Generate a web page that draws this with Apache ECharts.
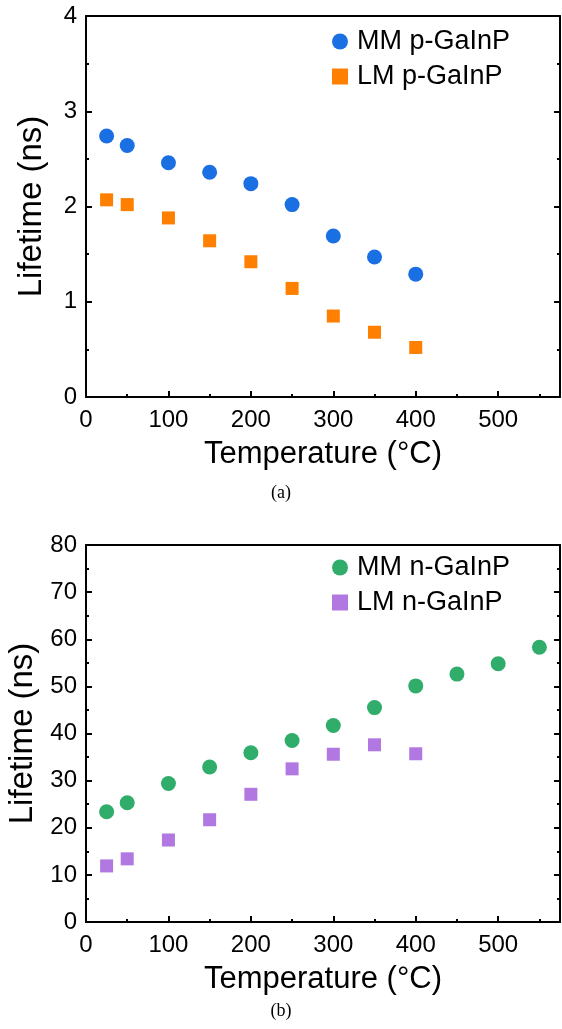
<!DOCTYPE html>
<html>
<head>
<meta charset="utf-8">
<script src="https://cdn.jsdelivr.net/npm/echarts@6/dist/echarts.min.js"></script>
<style>
html,body{margin:0;padding:0;background:#fff;}
#c{width:562px;height:1029px;}
</style>
</head>
<body>
<div id="c"></div>
<script>
// Temperatures (°C)
const tempsTop = [25, 50, 100, 150, 200, 250, 300, 350, 400];
const mmP = [2.74, 2.64, 2.46, 2.36, 2.24, 2.02, 1.69, 1.47, 1.29];
const lmP = [2.07, 2.02, 1.88, 1.64, 1.42, 1.14, 0.85, 0.68, 0.52];

const tempsMMn = [25, 50, 100, 150, 200, 250, 300, 350, 400, 450, 500, 550];
const mmN = [23.4, 25.3, 29.4, 32.9, 35.9, 38.5, 41.7, 45.5, 50.1, 52.6, 54.8, 58.3];
const tempsLMn = [25, 50, 100, 150, 200, 250, 300, 350, 400];
const lmN = [11.9, 13.4, 17.4, 21.7, 27.1, 32.5, 35.6, 37.6, 35.7];

const xTicks = [0, 100, 200, 300, 400, 500];
const yTicksTop = [0, 1, 2, 3, 4];
const yTicksBottom = [0, 10, 20, 30, 40, 50, 60, 70, 80];

const FONT = 'Liberation Sans, Arial, sans-serif';
const C_BLUE = '#1a6fe3', C_ORANGE = '#ff7f00', C_GREEN = '#30ad6a', C_PURPLE = '#b078e0';

const zip = (xs, ys) => xs.map((x, i) => [x, ys[i]]);

const lineStyle = { color: '#000', width: 2 };

function xAxisMain(gi) {
  return {
    gridIndex: gi, type: 'value', min: 0, max: 575, interval: 100,
    position: 'bottom',
    name: 'Temperature (°C)', nameLocation: 'middle', nameGap: 42,
    nameTextStyle: { fontFamily: FONT, fontSize: 31, color: '#000' },
    axisLine: { show: true, onZero: false, lineStyle },
    axisTick: { show: true, inside: true, length: 6, lineStyle: { color: '#000', width: 2 } },
    minorTick: { show: true, splitNumber: 2, length: 3, lineStyle: { color: '#000', width: 2 } },
    axisLabel: { fontFamily: FONT, fontSize: 24, color: '#000', margin: 11, showMaxLabel: false,
      formatter: v => xTicks.includes(v) ? String(v) : '' },
    splitLine: { show: false }
  };
}
function xAxisTop(gi) {
  return {
    gridIndex: gi, type: 'value', min: 0, max: 575, interval: 100, position: 'top',
    axisLine: { show: true, onZero: false, lineStyle },
    axisTick: { show: false }, axisLabel: { show: false }, splitLine: { show: false }
  };
}
function yAxisMain(gi, max, interval, ticks) {
  return {
    gridIndex: gi, type: 'value', min: 0, max: max, interval: interval, position: 'left',
    name: 'Lifetime (ns)', nameLocation: 'middle', nameGap: gi === 0 ? 38 : 42,
    nameTextStyle: { fontFamily: FONT, fontSize: 33, color: '#000' },
    axisLine: { show: true, onZero: false, lineStyle },
    axisTick: { show: true, inside: true, length: 6, lineStyle: { color: '#000', width: 2 } },
    minorTick: { show: true, splitNumber: 2, length: 3, lineStyle: { color: '#000', width: 2 } },
    axisLabel: { fontFamily: FONT, fontSize: 24, color: '#000', margin: 9,
      formatter: v => ticks.includes(v) ? String(v) : '' },
    splitLine: { show: false }
  };
}
function yAxisRight(gi, max, interval) {
  return {
    gridIndex: gi, type: 'value', min: 0, max: max, interval: interval, position: 'right',
    axisLine: { show: true, onZero: false, lineStyle },
    axisTick: { show: true, inside: true, length: 6, lineStyle: { color: '#000', width: 2 } },
    minorTick: { show: true, splitNumber: 2, length: 3, lineStyle: { color: '#000', width: 2 } },
    axisLabel: { show: false }, splitLine: { show: false }
  };
}

const chart = echarts.init(document.getElementById('c'), null, { renderer: 'canvas' });
chart.setOption({
  backgroundColor: '#fff',
  animation: false,
  grid: [
    { left: 86, top: 16, width: 474, height: 381, outerBoundsMode: 'none', containLabel: false },
    { left: 86, top: 545, width: 474, height: 377, outerBoundsMode: 'none', containLabel: false }
  ],
  xAxis: [xAxisMain(0), xAxisTop(0), xAxisMain(1), xAxisTop(1)],
  yAxis: [yAxisMain(0, 4, 1, yTicksTop), yAxisRight(0, 4, 1),
          yAxisMain(1, 80, 10, yTicksBottom), yAxisRight(1, 80, 10)],
  legend: [
    { orient: 'vertical', left: 327, top: 23, itemGap: 8, itemWidth: 16, itemHeight: 16,
      textStyle: { fontFamily: FONT, fontSize: 27, color: '#000', padding: [0, 0, 0, 4] },
      data: [{ name: 'MM p-GaInP', icon: 'circle' }, { name: 'LM p-GaInP', icon: 'rect' }] },
    { orient: 'vertical', left: 327, top: 549, itemGap: 8, itemWidth: 16, itemHeight: 16,
      textStyle: { fontFamily: FONT, fontSize: 27, color: '#000', padding: [0, 0, 0, 4] },
      data: [{ name: 'MM n-GaInP', icon: 'circle' }, { name: 'LM n-GaInP', icon: 'rect' }] }
  ],
  series: [
    { name: 'MM p-GaInP', type: 'scatter', xAxisIndex: 0, yAxisIndex: 0, symbol: 'circle', symbolSize: 15,
      itemStyle: { color: C_BLUE, opacity: 1 }, data: zip(tempsTop, mmP) },
    { name: 'LM p-GaInP', type: 'scatter', xAxisIndex: 0, yAxisIndex: 0, symbol: 'rect', symbolSize: 13,
      itemStyle: { color: C_ORANGE, opacity: 1 }, data: zip(tempsTop, lmP) },
    { name: 'MM n-GaInP', type: 'scatter', xAxisIndex: 2, yAxisIndex: 2, symbol: 'circle', symbolSize: 15,
      itemStyle: { color: C_GREEN, opacity: 1 }, data: zip(tempsMMn, mmN) },
    { name: 'LM n-GaInP', type: 'scatter', xAxisIndex: 2, yAxisIndex: 2, symbol: 'rect', symbolSize: 13,
      itemStyle: { color: C_PURPLE, opacity: 1 }, data: zip(tempsLMn, lmN) }
  ],
  graphic: [
    { type: 'text', x: 281, y: 493, style: { text: '(a)', font: '18px "Liberation Serif", "Times New Roman", serif', fill: '#000', align: 'center', verticalAlign: 'middle' } },
    { type: 'text', x: 281, y: 1011, style: { text: '(b)', font: '18px "Liberation Serif", "Times New Roman", serif', fill: '#000', align: 'center', verticalAlign: 'middle' } }
  ]
});
</script>
</body>
</html>
